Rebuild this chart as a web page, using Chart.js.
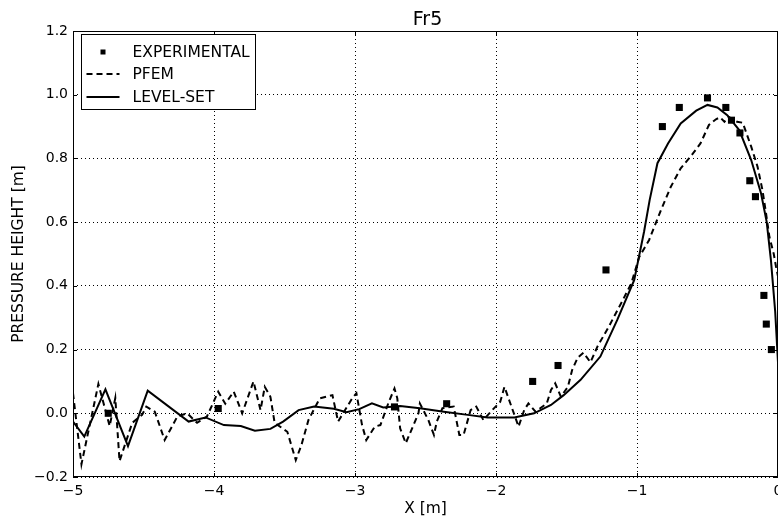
<!DOCTYPE html>
<html>
<head>
<meta charset="utf-8">
<script src="https://cdn.jsdelivr.net/npm/chart.js@4.4.0/dist/chart.umd.min.js"></script>
<style>
  body { margin: 0; background: #fff; }
  #wrap { width: 778px; height: 521px; }
</style>
</head>
<body>
<div id="wrap"><canvas id="c" width="778" height="521"></canvas></div>
<script>
const xTicks = [-5, -4, -3, -2, -1, 0];
const yTicks = [-0.2, 0.0, 0.2, 0.4, 0.6, 0.8, 1.0, 1.2];

const expX = [-4.75, -3.97, -2.72, -2.35, -1.74, -1.56, -1.22, -0.82, -0.70, -0.50, -0.37, -0.33, -0.27, -0.20, -0.16, -0.10, -0.083, -0.047];
const expY = [0.00, 0.015, 0.02, 0.03, 0.10, 0.15, 0.45, 0.90, 0.96, 0.99, 0.96, 0.92, 0.88, 0.73, 0.68, 0.37, 0.28, 0.20];

const pfemX = [-5.00, -4.94, -4.82, -4.74, -4.70, -4.67, -4.58, -4.51, -4.48, -4.42, -4.35, -4.26, -4.19, -4.12, -4.05,
  -3.97, -3.92, -3.86, -3.80, -3.72, -3.67, -3.64, -3.60, -3.57, -3.48, -3.42, -3.38, -3.33, -3.25, -3.16, -3.12,
  -3.02, -2.99, -2.95, -2.92, -2.86, -2.82, -2.76, -2.72, -2.70, -2.68, -2.64, -2.59, -2.55, -2.54, -2.48, -2.44,
  -2.42, -2.38, -2.30, -2.26, -2.23, -2.18, -2.14, -2.09, -2.02, -1.97, -1.94, -1.90, -1.84, -1.80, -1.77, -1.72,
  -1.64, -1.61, -1.58, -1.54, -1.49, -1.46, -1.42, -1.38, -1.33, -1.28, -1.20, -1.15, -1.10, -1.04, -0.985, -0.914,
  -0.83, -0.76, -0.69, -0.62, -0.55, -0.49, -0.44, -0.41, -0.38, -0.35, -0.29, -0.25, -0.19, -0.145, -0.11, -0.085,
  -0.061, -0.03, -0.014, 0.0];
const pfemY = [0.063, -0.16, 0.092, -0.04, 0.048, -0.15, -0.03, -0.005, 0.021, 0.005, -0.084, -0.01, 0.0, -0.03, -0.01,
  0.068, 0.03, 0.068, 0.0, 0.10, 0.01, 0.083, 0.052, -0.03, -0.058, -0.147, -0.10, -0.021, 0.047, 0.057, -0.026,
  0.047, 0.063, -0.037, -0.084, -0.042, -0.037, 0.036, 0.078, 0.047, -0.047, -0.094, -0.042, 0.0, 0.031, -0.021, -0.068,
  -0.026, 0.016, 0.021, -0.068, -0.068, 0.01, 0.021, -0.021, 0.013, 0.036, 0.083, 0.033, -0.042, 0.01, 0.031, 0.005,
  0.031, 0.073, 0.094, 0.052, 0.083, 0.136, 0.175, 0.19, 0.16, 0.21, 0.272, 0.314, 0.356, 0.408, 0.49, 0.544,
  0.638, 0.711, 0.769, 0.806, 0.847, 0.905, 0.923, 0.929, 0.915, 0.931, 0.915, 0.912, 0.837, 0.774, 0.70, 0.628,
  0.554, 0.50, 0.46, 0.43];

const lsX = [-5.00, -4.92, -4.77, -4.61, -4.47, -4.18, -4.06, -3.93, -3.81, -3.71, -3.60, -3.51, -3.40, -3.29, -3.15,
  -3.06, -2.97, -2.88, -2.80, -2.68, -2.54, -2.37, -2.20, -2.06, -1.87, -1.73, -1.61, -1.52, -1.40, -1.26, -1.14,
  -1.02, -0.95, -0.91, -0.855, -0.78, -0.69, -0.58, -0.50, -0.43, -0.36, -0.275, -0.19, -0.12, -0.08, -0.05, -0.02, 0.0];
const lsY = [-0.026, -0.073, 0.075, -0.103, 0.071, -0.026, -0.013, -0.037, -0.040, -0.055, -0.049, -0.026, 0.010, 0.021, 0.014,
  0.003, 0.013, 0.031, 0.018, 0.023, 0.016, 0.005, -0.005, -0.013, -0.013, 0.000, 0.026, 0.057, 0.105, 0.178, 0.293,
  0.418, 0.570, 0.670, 0.785, 0.847, 0.910, 0.950, 0.968, 0.960, 0.936, 0.889, 0.795, 0.690, 0.600, 0.48, 0.32, 0.16];

const chartTitle = 'Fr5';
const legendItems = ['EXPERIMENTAL', 'PFEM', 'LEVEL-SET'];

const FONT = 'DejaVu Sans';
Chart.defaults.font.family = FONT;
Chart.defaults.color = '#000';

function pts(xs, ys) { return xs.map((x, i) => ({ x: x, y: ys[i] })); }
function minus(s) { return s.replace('-', '\u2212'); }
const noPadding = () => ({ left: 0, top: 0, right: 0, bottom: 0 });

// frame, inward ticks, title and legend box drawn on top of the chart area
const framePlugin = {
  id: 'frame',
  afterDraw(chart) {
    const ctx = chart.ctx;
    const a = chart.chartArea;
    const sx = chart.scales.x, sy = chart.scales.y;
    ctx.save();
    ctx.strokeStyle = '#000';
    ctx.lineWidth = 1;
    ctx.setLineDash([]);
    ctx.strokeRect(a.left + 0.5, a.top + 0.5, a.right - a.left - 1, a.bottom - a.top - 1);
    ctx.beginPath();
    xTicks.forEach(v => {
      const px = Math.min(Math.round(sx.getPixelForValue(v)), a.right - 1) + 0.5;
      ctx.moveTo(px, a.bottom); ctx.lineTo(px, a.bottom - 4);
      ctx.moveTo(px, a.top); ctx.lineTo(px, a.top + 4);
    });
    yTicks.forEach(v => {
      const py = Math.round(sy.getPixelForValue(v)) + 0.5;
      ctx.moveTo(a.left, py); ctx.lineTo(a.left + 4, py);
      ctx.moveTo(a.right, py); ctx.lineTo(a.right - 4, py);
    });
    ctx.stroke();

    ctx.fillStyle = '#000';
    ctx.font = '19px "' + FONT + '"';
    ctx.textAlign = 'center';
    ctx.textBaseline = 'alphabetic';
    ctx.fillText(chartTitle, (a.left + a.right) / 2 + 2, 25);

    // legend
    const bx = a.left + 8.5, by = a.top + 3.5, bw = 174, bh = 75;
    ctx.fillStyle = '#fff';
    ctx.fillRect(bx, by, bw, bh);
    ctx.strokeRect(bx, by, bw, bh);
    const rows = [by + 17.5, by + 39.5, by + 62.5];
    ctx.fillStyle = '#000';
    ctx.fillRect(bx + 19, rows[0] - 2.5, 5, 5);
    ctx.lineWidth = 2;
    ctx.setLineDash([6, 4]);
    ctx.beginPath(); ctx.moveTo(bx + 5, rows[1]); ctx.lineTo(bx + 38, rows[1]); ctx.stroke();
    ctx.setLineDash([]);
    ctx.beginPath(); ctx.moveTo(bx + 5, rows[2]); ctx.lineTo(bx + 38, rows[2]); ctx.stroke();
    ctx.font = '15.5px "' + FONT + '"';
    ctx.textBaseline = 'middle';
    ctx.textAlign = 'left';
    legendItems.forEach((t, i) => ctx.fillText(t, bx + 51, rows[i] + 1));
    ctx.restore();
  }
};

new Chart(document.getElementById('c'), {
  type: 'scatter',
  data: {
    datasets: [
      {
        label: legendItems[0],
        data: pts(expX, expY),
        pointStyle: 'rect',
        pointRadius: 5,
        backgroundColor: '#000',
        borderColor: '#000',
        borderWidth: 0,
        order: 0
      },
      {
        label: legendItems[1],
        type: 'line',
        data: pts(pfemX, pfemY),
        borderColor: '#000',
        borderWidth: 2,
        borderDash: [6, 4],
        pointRadius: 0,
        fill: false,
        tension: 0,
        order: 1
      },
      {
        label: legendItems[2],
        type: 'line',
        data: pts(lsX, lsY),
        borderColor: '#000',
        borderWidth: 2,
        pointRadius: 0,
        fill: false,
        tension: 0,
        order: 2
      }
    ]
  },
  options: {
    responsive: false,
    animation: false,
    layout: { autoPadding: false, padding: { top: 31, right: 0, bottom: 0, left: 0 } },
    plugins: {
      legend: { display: false },
      tooltip: { enabled: false },
      title: { display: false }
    },
    scales: {
      x: {
        type: 'linear',
        min: -5,
        max: 0,
        afterBuildTicks: s => { s.ticks = xTicks.map(v => ({ value: v })); },
        afterFit: s => { s.height = 44; s.paddingLeft = 0; s.paddingRight = 0; s.getPadding = noPadding; },
        ticks: {
          font: { size: 14 },
          padding: 6,
          maxRotation: 0,
          callback: v => minus(String(v))
        },
        grid: { color: '#000', lineWidth: 1, drawTicks: false },
        border: { display: false, dash: [1, 3] },
        title: { display: true, text: 'X [m]', font: { size: 15.5 }, padding: { top: 0, bottom: 3 } }
      },
      y: {
        type: 'linear',
        min: -0.2,
        max: 1.2,
        afterBuildTicks: s => { s.ticks = yTicks.map(v => ({ value: v })); },
        afterFit: s => { s.width = 73; s.paddingTop = 0; s.paddingBottom = 0; s.getPadding = noPadding; },
        ticks: {
          font: { size: 14 },
          padding: 5,
          callback: v => minus(v.toFixed(1))
        },
        grid: { color: '#000', lineWidth: 1, drawTicks: false },
        border: { display: false, dash: [1, 3] },
        title: { display: true, text: 'PRESSURE HEIGHT [m]', font: { size: 15.5 }, padding: { top: 10, bottom: 0 } }
      }
    }
  },
  plugins: [framePlugin]
});
</script>
</body>
</html>
